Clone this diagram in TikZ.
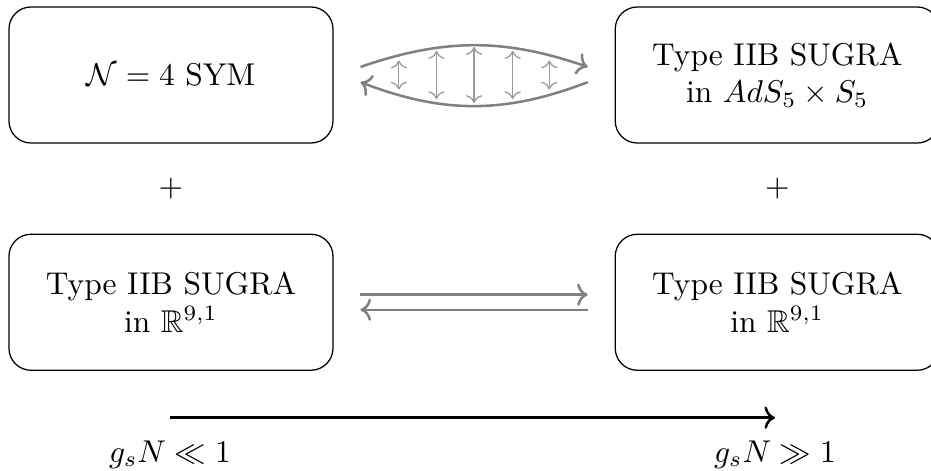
\documentclass[tikz,border=0pt]{standalone}
\usepackage{amsmath}
\usepackage{amssymb}
\usepackage{tikz}
\usetikzlibrary{arrows.meta, positioning, calc}

\begin{document}
\begin{tikzpicture}[
  node distance=1.004cm and 3.136cm,
  theory/.style={draw, rounded corners=7pt, minimum width=3.616cm,
                 minimum height=1.518cm, align=center},
  dual/.style={->, thick, color=black!50},
  link/.style={<->, thin, color=black!40}
]
  \useasboundingbox (0,0) rectangle (10.39,-5.256);

  % Top row
  \node[theory] (sym) at (1.908,-0.837) {$\mathcal{N}=4$ SYM};
  \node[theory, right=of sym] (ads) {Type IIB SUGRA\\in $AdS_5\times S_5$};

  % Bottom row
  \node[theory, below=of sym] (flatL) {Type IIB SUGRA\\in $\mathbb{R}^{9,1}$};
  \node[theory, below=of ads] (flatR) {Type IIB SUGRA\\in $\mathbb{R}^{9,1}$};

  % Plus signs
  \node (plusL) at ($(sym.south)!0.5!(flatL.north)$) {$+$};
  \node (plusR) at ($(ads.south)!0.5!(flatR.north)$) {$+$};

  % Coupling labels
  \node[anchor=base] (weak) at (1.897,-5.156) {$g_sN\ll 1$};
  \node[anchor=base] (strong) at (8.649,-5.156) {$g_sN\gg 1$};

  % Duality arrows
  \draw[dual] ([shift={(0.30,0.09)}]sym.east) to[bend left=19]
    ([shift={(-0.30,0.09)}]ads.west);
  \draw[dual] ([shift={(-0.30,-0.08)}]ads.west) to[bend left=21]
    ([shift={(0.30,-0.08)}]sym.east);
  \coordinate (mid) at ($(sym.east)!0.5!(ads.west)$);
  \foreach \dx/\h in {-0.84/0.162, -0.42/0.268, 0/0.3125, 0.43/0.268, 0.84/0.162}
    \draw[link] ([shift={(\dx,\h)}]mid) -- ([shift={(\dx,-\h)}]mid);

  \draw[dual] ([shift={(0.30,0.084)}]flatL.east) -- ([shift={(-0.30,0.084)}]flatR.west);
  \draw[dual] ([shift={(-0.30,-0.084)}]flatR.west) -- ([shift={(0.30,-0.084)}]flatL.east);

  % Coupling axis
  \draw[->, thick] ([yshift=0.13cm]weak.north) -- ([yshift=0.13cm]strong.north);
\end{tikzpicture}
\end{document}
